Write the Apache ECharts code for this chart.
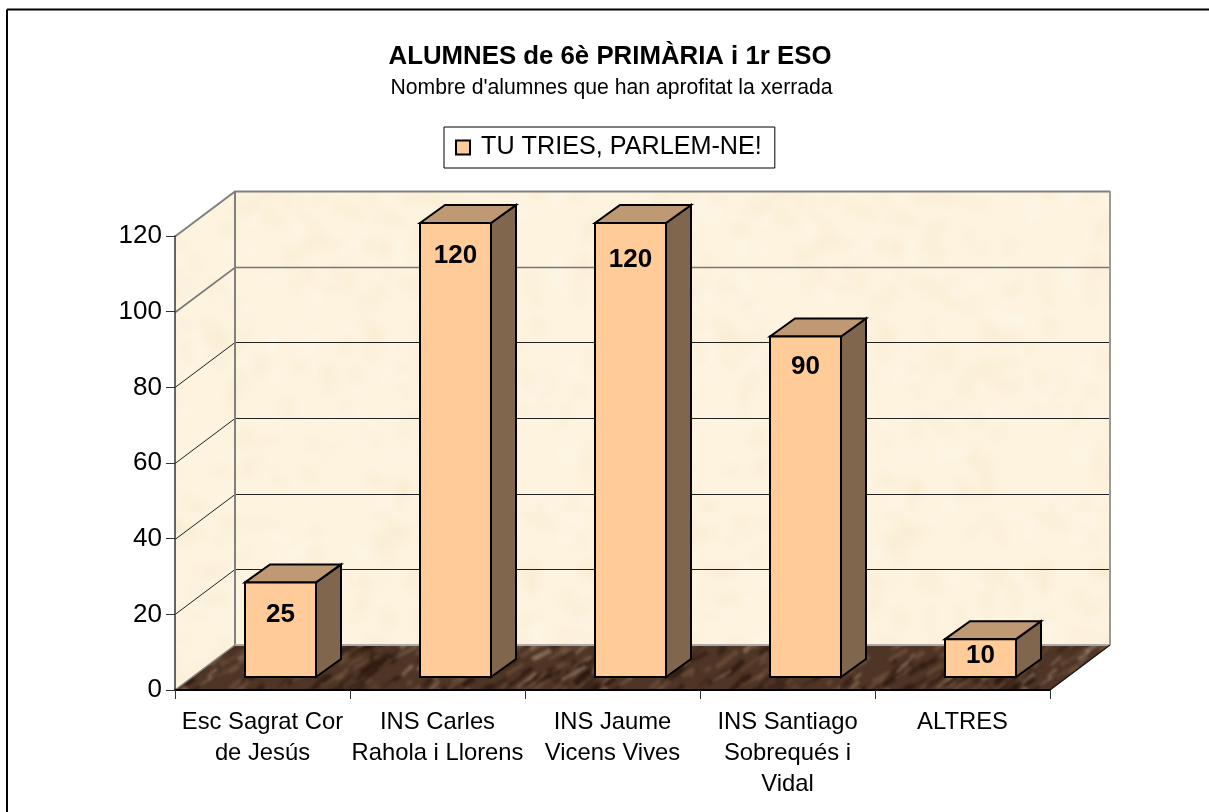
<!DOCTYPE html>
<html>
<head>
<meta charset="utf-8">
<style>html,body{margin:0;padding:0;background:#fff}#c{width:1209px;height:812px}</style>
<script src="https://cdn.jsdelivr.net/npm/echarts@6/dist/echarts.min.js"></script>
</head>
<body>
<div id="c"></div>
<script>
const titleText = "ALUMNES de 6è PRIMÀRIA i 1r ESO";
const subtitleText = "Nombre d'alumnes que han aprofitat la xerrada";
const seriesName = "TU TRIES, PARLEM-NE!";
const categories = ["Esc Sagrat Cor\nde Jesús", "INS Carles\nRahola i Llorens", "INS Jaume\nVicens Vives", "INS Santiago\nSobrequés i\nVidal", "ALTRES"];
const values = [25, 120, 120, 90, 10];
const yTicks = [0, 20, 40, 60, 80, 100, 120];

// Rendering-only constants
const WALL_DX = 60, WALL_DY = 45, BAR_DX = 25, BAR_DY = 18, BAR_W = 71, BAR_LIFT = 13, BAR_SHIFT = 18;
const LABEL_DROP = [32, 33, 37, 30, 17];

function lcg(seed){let s=seed;return function(){s=(s*1664525+1013904223)%4294967296;return s/4294967296;};}
function parchment(){
  const c=document.createElement('canvas');c.width=512;c.height=512;const g=c.getContext('2d');
  g.fillStyle='#FDF3DE';g.fillRect(0,0,512,512);const r=lcg(7);
  g.filter='blur(3px)';
  for(let i=0;i<500;i++){
    const x=r()*512,y=r()*512,a=4+r()*16,b=2+r()*7,p=r();
    g.fillStyle=p<0.5?'rgba(248,234,195,0.22)':(p<0.85?'rgba(255,250,238,0.3)':'rgba(248,232,205,0.2)');
    g.beginPath();g.ellipse(x,y,a,b,r()*3.14,0,6.28);g.fill();
  }
  return c;
}
function marble(){
  const c=document.createElement('canvas');c.width=420;c.height=200;const g=c.getContext('2d');
  g.fillStyle='#4f3526';g.fillRect(0,0,420,200);const r=lcg(19);
  g.filter='blur(1.5px)';
  for(let i=0;i<750;i++){
    const x=r()*420,y=r()*200,l=6+r()*24,p=r(),ang=-0.85+r()*0.45;
    g.strokeStyle=p<0.5?'rgba(38,20,12,0.55)':(p<0.86?'rgba(125,95,72,0.5)':'rgba(180,155,130,0.5)');
    g.lineWidth=1.5+r()*4;g.beginPath();g.moveTo(x,y);g.lineTo(x+l*Math.cos(ang),y+l*Math.sin(ang));g.stroke();
  }
  return c;
}
const wallTex = {image: parchment(), repeat: 'repeat'};
const floorTex = {image: marble(), repeat: 'repeat'};

function renderWalls(params, api){
  const cs = params.coordSys;
  const L = cs.x, R = cs.x + cs.width, T = cs.y, B = cs.y + cs.height;
  const kids = [
    {type:'polygon',shape:{points:[[L,T],[L+WALL_DX,T-WALL_DY],[L+WALL_DX,B-WALL_DY],[L,B]]},style:{fill:wallTex,stroke:null}},
    {type:'rect',shape:{x:L+WALL_DX,y:T-WALL_DY,width:R-L,height:B-T},style:{fill:wallTex,stroke:null}},
    {type:'polygon',shape:{points:[[L,B],[L+WALL_DX,B-WALL_DY],[R+WALL_DX,B-WALL_DY],[R,B]]},style:{fill:floorTex,stroke:null}}
  ];
  yTicks.forEach(function(v){
    if(v===0) return;
    const y = Math.round(api.coord([0,v])[1]) + 0.5;
    const top = v===120, soft = v===100;
    kids.push({type:'polyline',shape:{points:[[L,y],[L+WALL_DX,y-WALL_DY],[R+WALL_DX,y-WALL_DY]]},
      style:{fill:null,stroke:top?'#808080':(soft?'#777':'#222'),lineWidth:top?2:(soft?1.6:1)}});
  });
  kids.push({type:'line',shape:{x1:L+WALL_DX,y1:T-WALL_DY,x2:L+WALL_DX,y2:B-WALL_DY},style:{stroke:'#808080',lineWidth:2}});
  kids.push({type:'line',shape:{x1:R+WALL_DX,y1:T-WALL_DY,x2:R+WALL_DX,y2:B-WALL_DY},style:{stroke:'#999',lineWidth:2}});
  kids.push({type:'line',shape:{x1:L+WALL_DX,y1:B-WALL_DY,x2:R+WALL_DX,y2:B-WALL_DY},style:{stroke:'#aaa',lineWidth:2}});
  kids.push({type:'line',shape:{x1:L,y1:B,x2:L+WALL_DX,y2:B-WALL_DY},style:{stroke:'#888',lineWidth:1.5}});
  kids.push({type:'line',shape:{x1:R,y1:B,x2:R+WALL_DX,y2:B-WALL_DY},style:{stroke:'#111',lineWidth:1.2}});
  return {type:'group',children:kids};
}
function renderBar(params, api){
  const i = api.value(0), v = api.value(1);
  const top = api.coord([i,v]), base = api.coord([i,0]);
  const x0 = top[0] + BAR_SHIFT - BAR_W/2, x1 = x0 + BAR_W;
  const yT = top[1] - BAR_LIFT, yB = base[1] - BAR_LIFT;
  const line = {stroke:'#000',lineWidth:2,lineJoin:'miter'};
  return {type:'group',children:[
    {type:'polygon',shape:{points:[[x1,yT],[x1+BAR_DX,yT-BAR_DY],[x1+BAR_DX,yB-BAR_DY],[x1,yB]]},style:Object.assign({fill:'#80664D'},line)},
    {type:'polygon',shape:{points:[[x0,yT],[x0+BAR_DX,yT-BAR_DY],[x1+BAR_DX,yT-BAR_DY],[x1,yT]]},style:Object.assign({fill:'#BF9973'},line)},
    {type:'rect',shape:{x:x0,y:yT,width:BAR_W,height:yB-yT},style:Object.assign({fill:'#FFCC99'},line)},
    {type:'text',x:(x0+x1)/2,y:yT+LABEL_DROP[params.dataIndex],style:{text:String(v),fill:'#000',font:'bold 26px "Liberation Sans"',align:'center',verticalAlign:'middle'}}
  ]};
}
const chart = echarts.init(document.getElementById('c'));
chart.setOption({
  animation:false,
  backgroundColor:'#fff',
  title:[
    {text:titleText,left:605,top:39,textAlign:'center',textStyle:{fontFamily:'Liberation Sans',fontSize:25.8,fontWeight:'bold',color:'#000'}},
    {text:subtitleText,left:606.5,top:73,textAlign:'center',textStyle:{fontFamily:'Liberation Sans',fontSize:21.2,fontWeight:'normal',color:'#000'}}
  ],
  legend:{
    data:[seriesName],left:444,top:127,orient:'horizontal',selectedMode:false,
    icon:'rect',itemWidth:14,itemHeight:14,padding:[8,13,8,11],
    backgroundColor:'#fff',borderColor:'#000',borderWidth:1,borderRadius:0,
    textStyle:{fontFamily:'Liberation Sans',fontSize:25.2,color:'#000',padding:[0,0,0,6]}
  },
  grid:{left:175,right:159,top:236,bottom:122,containLabel:false},
  xAxis:{type:'category',data:categories,z:4,
    axisLine:{show:true,lineStyle:{color:'#000',width:2}},
    axisTick:{show:true,alignWithLabel:false,length:9,lineStyle:{color:'#333',width:1}},
    axisLabel:{interval:0,margin:17,fontFamily:'Liberation Sans',fontSize:23.8,lineHeight:31,color:'#000',verticalAlign:'top'},
    splitLine:{show:false}},
  yAxis:{type:'value',min:0,max:120,interval:20,z:4,
    axisLine:{show:true,lineStyle:{color:'#333',width:1.5}},
    axisTick:{show:true,length:9,lineStyle:{color:'#333',width:1}},
    axisLabel:{margin:13,fontFamily:'Liberation Sans',fontSize:26,color:'#000'},
    splitLine:{show:false}},
  series:[
    {type:'custom',name:'walls',z:1,silent:true,renderItem:renderWalls,data:[[0,0]],encode:{x:0,y:1}},
    {type:'custom',name:seriesName,z:3,silent:true,renderItem:renderBar,
      itemStyle:{color:'#FFCC99',borderColor:'#000',borderWidth:1.5},
      data:values.map(function(v,i){return [i,v];}),encode:{x:0,y:1}}
  ],
  graphic:[
    {type:'line',shape:{x1:7,y1:9.5,x2:1209,y2:9.5},style:{stroke:'#000',lineWidth:2}},
    {type:'line',shape:{x1:7,y1:9.5,x2:7,y2:812},style:{stroke:'#000',lineWidth:2}}
  ]
});
</script>
</body>
</html>
